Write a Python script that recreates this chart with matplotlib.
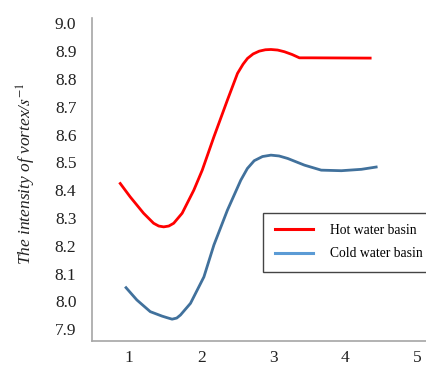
import matplotlib
matplotlib.use("Agg")
from matplotlib import pyplot as plt
from matplotlib.lines import Line2D

# values
hot_x = [0.865, 1.014, 1.200, 1.339, 1.410, 1.479, 1.550, 1.618, 1.735, 1.897, 2.014, 2.176,
         2.363, 2.503, 2.580, 2.642, 2.720, 2.804, 2.890, 2.967, 3.060, 3.153, 3.260, 3.362,
         3.525, 4.363]
hot_y = [8.428, 8.376, 8.317, 8.281, 8.271, 8.268, 8.271, 8.281, 8.317, 8.400, 8.472, 8.592,
         8.724, 8.820, 8.853, 8.874, 8.890, 8.900, 8.905, 8.906, 8.904, 8.898, 8.888, 8.876,
         8.876, 8.875]

cold_x = [0.944, 1.107, 1.293, 1.456, 1.530, 1.596, 1.660, 1.712, 1.851, 2.037, 2.176, 2.363,
          2.549, 2.640, 2.735, 2.850, 2.967, 3.080, 3.200, 3.432, 3.665, 3.944, 4.223, 4.446]
cold_y = [8.053, 8.005, 7.963, 7.947, 7.941, 7.936, 7.940, 7.951, 7.993, 8.088, 8.203, 8.328,
          8.436, 8.478, 8.506, 8.521, 8.526, 8.523, 8.514, 8.490, 8.472, 8.470, 8.475, 8.484]

xticks = [1, 2, 3, 4, 5]
yticks = [7.9, 8.0, 8.1, 8.2, 8.3, 8.4, 8.5, 8.6, 8.7, 8.8, 8.9, 9.0]

plt.rcParams['font.family'] = ['Liberation Serif', 'DejaVu Serif']
plt.rcParams['mathtext.fontset'] = 'stix'

fig = plt.figure(figsize=(4.27, 3.67), dpi=100)
ax = fig.add_axes([0.2147, 0.072, 0.79, 0.878])

ax.plot(hot_x, hot_y, color='#ff0000', lw=2.0, solid_joinstyle='round', solid_capstyle='butt')
ax.plot(cold_x, cold_y, color='#41719c', lw=2.0, solid_joinstyle='round', solid_capstyle='butt')

ax.set_xlim(0.48, 5.16)
ax.set_ylim(7.859, 9.018)
ax.set_xticks(xticks)
ax.set_yticks(yticks)
ax.set_yticklabels(['%.1f' % v for v in yticks])
ax.tick_params(axis='both', length=0, labelsize=12.5, colors='#222222')
ax.tick_params(axis='y', pad=11)
ax.tick_params(axis='x', pad=7)

for s in ['top', 'right']:
    ax.spines[s].set_visible(False)
for s in ['left', 'bottom']:
    ax.spines[s].set_color('#a6a6a6')
    ax.spines[s].set_linewidth(1.2)

fig.text(26 / 427, 1 - 174 / 367, 'The intensity of vortex/$s^{-1}$',
         rotation=90, ha='center', va='center', fontsize=12.5, fontstyle='italic',
         color='#222222')

handles = [Line2D([], [], color='#ff0000', lw=2.2),
           Line2D([], [], color='#5b9bd5', lw=2.2)]
leg = fig.legend(handles, ['Hot water basin', 'Cold water basin'],
                 loc='upper left', bbox_to_anchor=(263 / 427, 1 - 212.5 / 367),
                 borderaxespad=0, fontsize=9.8, handlelength=2.8, handletextpad=1.3,
                 labelspacing=0.75, borderpad=0.85, fancybox=False, framealpha=1)
leg.get_frame().set_edgecolor('#444444')
leg.get_frame().set_linewidth(1.0)

fig.savefig('out.png', dpi=100)
